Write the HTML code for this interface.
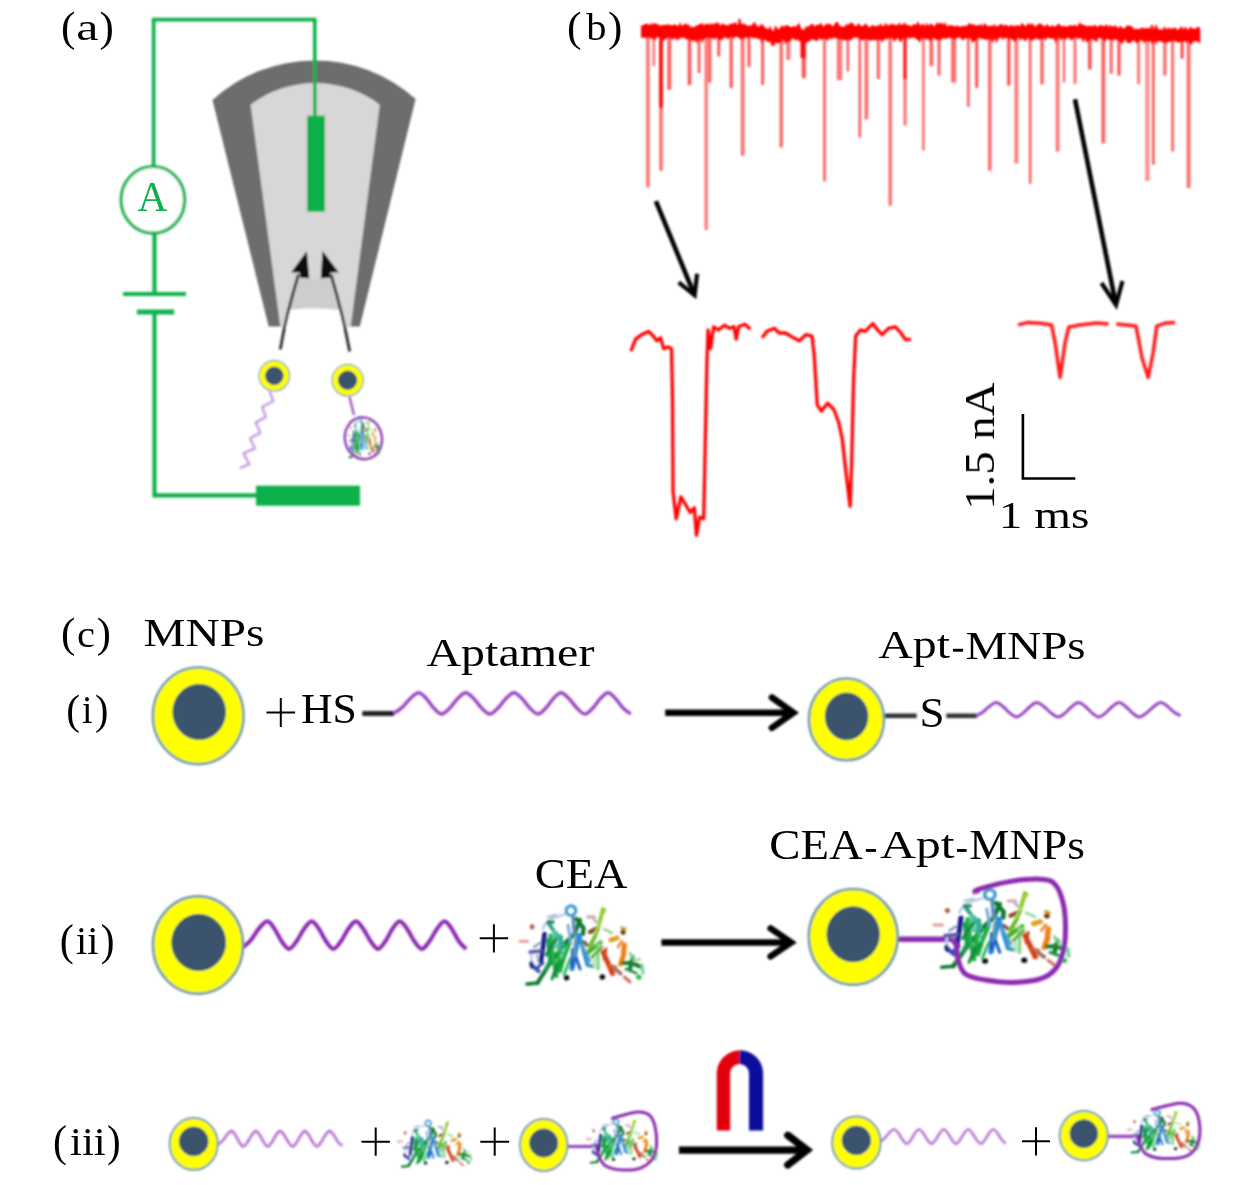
<!DOCTYPE html>
<html><head><meta charset="utf-8"><title>figure</title>
<style>html,body{margin:0;padding:0;background:#fff}svg{display:block}text{font-family:"Liberation Serif",serif}</style>
</head><body>
<svg width="1260" height="1185" viewBox="0 0 1260 1185">
<defs>
<filter id="soft" x="-5%" y="-5%" width="110%" height="110%"><feGaussianBlur stdDeviation="0.8"/></filter>
<filter id="soft2" x="-10%" y="-10%" width="120%" height="120%"><feGaussianBlur stdDeviation="0.9"/></filter>
</defs>
<rect width="1260" height="1185" fill="#fff"/>
<g filter="url(#soft)">
<path d="M212.5,100 A151.6,151.6 0 0 1 415.6,99 L359.8,326.5 L268.7,326.5 Z" fill="#6d6d6d"/>
<path d="M250.6,104.7 A107,107 0 0 1 379.8,104.7 L350.7,326.5 L280.3,326.5 Z" fill="#d7d7d7"/>
<path d="M299,279 L331,279 L339,310 L288.4,310 Z" fill="#cdcdcd"/>
<path d="M288.4,310 Q314,306.5 339,310 L344.9,328 L284.7,328 Z" fill="#fff"/>
<path d="M280.3,349.4 Q286,315 298.5,274.5" stroke="#333" stroke-width="2.9" fill="none"/>
<path d="M349.7,351.5 Q343,315 331,274.5" stroke="#333" stroke-width="2.9" fill="none"/>
<path d="M306.8,251 L291.3,272.2 L299.5,272.5 L300.5,278 L309.3,278.3 Z" fill="#0a0a0a"/>
<path d="M322.6,251 L338.7,272.2 L330.5,272.5 L329.5,278 L320.7,278.3 Z" fill="#0a0a0a"/>
<path d="M153.6,166 V19.6 H314.8 V116" stroke="#0db14b" stroke-width="3.6" fill="none"/>
<rect x="307" y="115.6" width="18" height="96.2" fill="#0db14b"/>
<ellipse cx="152.9" cy="199.8" rx="31.7" ry="33.3" fill="#fff" stroke="#0db14b" stroke-width="3.2"/>
<path d="M154.5,234 V294 M154.5,312 V495.3 H257" stroke="#0db14b" stroke-width="4.2" fill="none"/>
<path d="M123,294 H186" stroke="#0db14b" stroke-width="4" fill="none"/>
<path d="M137,312 H174" stroke="#0db14b" stroke-width="5" fill="none"/>
<rect x="256" y="485.7" width="104" height="20" fill="#0db14b"/>
<ellipse cx="274.3" cy="375.8" rx="15.2" ry="15.2" fill="#ffff00" stroke="#6f9aaa" stroke-width="1.2"/>
<ellipse cx="274.3" cy="375.8" rx="8.8" ry="8.8" fill="#3b536c" stroke="#2d5f86" stroke-width="1"/>
<ellipse cx="347.6" cy="380.2" rx="15.6" ry="15.6" fill="#ffff00" stroke="#6f9aaa" stroke-width="1.2"/>
<ellipse cx="347.6" cy="380.2" rx="9.2" ry="9.2" fill="#3b536c" stroke="#2d5f86" stroke-width="1"/>
<polyline points="269.6,391 273.3,401.2 262.2,406.8 265.9,417 255.7,422.5 260.3,432.8 250.1,438.3 254.8,448.5 243.6,453.2 249.2,464.3 240,468" stroke="#c9a2e2" stroke-width="2.6" fill="none" stroke-linejoin="round"/>
<path d="M349.5,397 L354,415" stroke="#a35cc6" stroke-width="2.4" fill="none"/>
<g transform="translate(344.5,411) scale(0.27,0.52)" fill="none" stroke-linecap="round">
<path d="M33,34 Q36,24 52,20" stroke="#b9cbe8" stroke-width="2.5"/>
<path d="M47,22 L58,18" stroke="#c5d3ea" stroke-width="2.5"/>
<path d="M22,58 Q20,66 24,70" stroke="#b9cbe8" stroke-width="2.5"/>
<path d="M27,60 L29,69" stroke="#aab7d8" stroke-width="2.5"/>
<path d="M34.5,39 L33,52 L31,66" stroke="#1a1a8c" stroke-width="4.6"/>
<path d="M20,57 L31,56" stroke="#5a5aa8" stroke-width="3.5"/>
<path d="M21.5,70 L28.5,76" stroke="#3a4fc0" stroke-width="4.2"/>
<path d="M21,68 L22,72" stroke="#1a2a70" stroke-width="3.4"/>
<path d="M27.5,88 L39.5,69 L56,47.5 L64.5,39 L70,25" stroke="#0b7a2c" stroke-width="4.2"/>
<path d="M17,89 L28,88" stroke="#0b7a2c" stroke-width="3.5"/>
<path d="M40.5,40.5 L43,62 L46.5,81" stroke="#21b045" stroke-width="4.2"/>
<path d="M38,45 L40,66 L36,74" stroke="#1c9a50" stroke-width="3.8"/>
<path d="M51,42 L49,60 L47.5,76" stroke="#21b045" stroke-width="4.2"/>
<path d="M59.5,48 L54,62 L50,76" stroke="#21b045" stroke-width="4.2"/>
<path d="M44,80 L52,66" stroke="#159a3a" stroke-width="3.8"/>
<path d="M38,27.5 L44,36" stroke="#2aa080" stroke-width="3.8"/>
<path d="M38,27 L43,27" stroke="#208868" stroke-width="3.4"/>
<path d="M44,36 L46,52" stroke="#46c7a0" stroke-width="3.4"/>
<path d="M50,41 L53,50" stroke="#30b090" stroke-width="3.8"/>
<path d="M63,20 A4.8,4.8 0 1 1 63.2,19.9" stroke="#3a9ad0" stroke-width="3"/>
<path d="M63,21 L64.3,39" stroke="#5a8fb8" stroke-width="3.5"/>
<path d="M69,40.5 L65,58 L62,73.5" stroke="#1d7fe0" stroke-width="5"/>
<path d="M63,55 L62,70" stroke="#2a4fd0" stroke-width="3.8"/>
<path d="M70,42 L74,58 L77.5,70" stroke="#2b8fd8" stroke-width="3.8"/>
<path d="M77.5,70 L83.5,71.5" stroke="#3a9ab0" stroke-width="3.8"/>
<path d="M66,44 L64,62" stroke="#5a98b0" stroke-width="3.4"/>
<path d="M66.5,24 L73.5,33 L73,39" stroke="#0b7a2c" stroke-width="4.2"/>
<path d="M93,14 L88,34 L82,48 L77.5,59.5" stroke="#8cc820" stroke-width="3.8"/>
<path d="M92,20 L95,15" stroke="#9ad040" stroke-width="2.9"/>
<path d="M78.5,57 L90.5,47.5" stroke="#42b030" stroke-width="4.2"/>
<path d="M80,50 L86,40" stroke="#6ab830" stroke-width="3.4"/>
<path d="M88,48 L88,74" stroke="#86d488" stroke-width="3.4"/>
<path d="M94,34 L102,38" stroke="#86d488" stroke-width="2.5"/>
<path d="M84,62 L84,72" stroke="#a8e0b0" stroke-width="2.5"/>
<path d="M80,37 L87,33.5" stroke="#8a4a20" stroke-width="4.2"/>
<path d="M74,47 L77,50" stroke="#7a5a30" stroke-width="3.4"/>
<path d="M93,57 L98,68 L102.5,78.5" stroke="#e03a12" stroke-width="5"/>
<path d="M114.3,50 L113.5,60 L110.7,69" stroke="#f07f12" stroke-width="5"/>
<path d="M101,45 L107,43" stroke="#e0a020" stroke-width="5"/>
<path d="M113,37 L113.2,37.2" stroke="#6a3010" stroke-width="5"/>
<path d="M112,33 L115,34" stroke="#c8a030" stroke-width="3.4"/>
<path d="M113,68 L122,68 L130,71.5" stroke="#128032" stroke-width="4.2"/>
<path d="M122.6,62 L120,74" stroke="#128032" stroke-width="4.2"/>
<path d="M128.6,82 L129,82.3" stroke="#20c040" stroke-width="5"/>
<path d="M132,70 L133,78" stroke="#7fd49a" stroke-width="3.4"/>
<path d="M120,58 L122,63" stroke="#7fd49a" stroke-width="2.9"/>
<path d="M22,31.5 L22.3,32" stroke="#b06050" stroke-width="4.6"/>
<path d="M10,46.4 L17.5,46.4" stroke="#e6a8a8" stroke-width="3.4"/>
<path d="M78,22 L84,22" stroke="#d8a8a8" stroke-width="3.4"/>
<path d="M84,24 L86,27" stroke="#b0b0c0" stroke-width="2.9"/>
<path d="M114.3,82 L120,87" stroke="#d07060" stroke-width="3"/>
<path d="M104.8,74 L110.7,78.6" stroke="#a07060" stroke-width="3.8"/>
<path d="M56.5,82.7 L56.6,82.7" stroke="#111111" stroke-width="5.5"/>
<path d="M92.3,82 L92.4,82" stroke="#111111" stroke-width="5.5"/>
<path d="M36,60 L46,44" stroke="#178a3c" stroke-width="2.9"/>
<path d="M42,84 L47,70" stroke="#178a3c" stroke-width="2.9"/>
<path d="M54,80 L60,64" stroke="#2ab860" stroke-width="2.7"/>
<path d="M47,38 L52,58" stroke="#3cb0a0" stroke-width="2.7"/>
<path d="M58,30 L61,48" stroke="#6fa8d8" stroke-width="2.7"/>
<path d="M66,62 L70,74" stroke="#1560c0" stroke-width="2.9"/>
<path d="M72,50 L80,66" stroke="#4aa0c8" stroke-width="2.7"/>
<path d="M82,62 L92,52" stroke="#5ab040" stroke-width="2.9"/>
<path d="M84,40 L90,28" stroke="#a0d860" stroke-width="2.5"/>
<path d="M96,54 L94,64" stroke="#c04a20" stroke-width="2.9"/>
<path d="M100,70 L106,72" stroke="#b07840" stroke-width="2.5"/>
<path d="M108,52 L112,46" stroke="#e89030" stroke-width="2.7"/>
<path d="M116,74 L126,78" stroke="#1a9040" stroke-width="2.9"/>
<path d="M124,66 L130,64" stroke="#9ad8a8" stroke-width="2.5"/>
<path d="M24,52 L30,48" stroke="#8898c8" stroke-width="2.5"/>
<path d="M28,72 L33,68" stroke="#2a3a90" stroke-width="2.7"/>
<path d="M38,22 L46,20" stroke="#a8c0e0" stroke-width="2.5"/>
</g>
<ellipse cx="363.4" cy="438.3" rx="18.5" ry="21" fill="none" stroke="#8d3eb4" stroke-width="2.4" transform="rotate(-12 363.4 438.3)"/>
<polygon points="641,25.6 642.7,25.6 644.4,24.1 646.1,23.8 647.8,23.9 649.5,25.3 651.2,22.6 652.9,25 654.6,22.5 656.3,24.2 658,25.5 659.7,25 661.4,25.5 663.1,24.7 664.8,24.9 666.5,24.8 668.2,25.4 669.9,24.8 671.6,25.2 673.3,25 675,24.4 676.7,25.2 678.4,26 680.1,21.9 681.8,25.9 683.5,25.1 685.2,23.1 686.9,25.1 688.6,23.9 690.3,27.1 692,26.4 693.7,27.2 695.4,26.3 697.1,25.2 698.8,24.5 700.5,24.1 702.2,22.8 703.9,25.6 705.6,23.7 707.3,23.8 709,25.5 710.7,22.7 712.4,24.9 714.1,22.7 715.8,23.9 717.5,21.8 719.2,24.1 720.9,25.5 722.6,23.1 724.3,24.6 726,25.1 727.7,25.5 729.4,24.3 731.1,23.5 732.8,23.8 734.5,22.6 736.2,22.7 737.9,25.3 739.6,22.8 741.3,23.1 743,24.2 744.7,23.6 746.4,25.3 748.1,25.8 749.8,25.8 751.5,25 753.2,24.7 754.9,22.2 756.6,25.6 758.3,26.5 760,25.9 761.7,23.4 763.4,25.5 765.1,27.7 766.8,28.3 768.5,29.3 770.2,25.4 771.9,30 773.6,30.9 775.3,25.1 777,28.1 778.7,29.6 780.4,27.3 782.1,25 783.8,27.3 785.5,25.3 787.2,25.2 788.9,26 790.6,27 792.3,27 794,25.6 795.7,27 797.4,25.1 799.1,22.6 800.8,27.4 802.5,30 804.2,29.6 805.9,26.1 807.6,27.3 809.3,25.6 811,24.4 812.7,23.5 814.4,26.6 816.1,25 817.8,24.7 819.5,24.5 821.2,22.5 822.9,26.4 824.6,25.8 826.3,23.5 828,24.2 829.7,23.6 831.4,25 833.1,26.4 834.8,23.6 836.5,21.8 838.2,22.7 839.9,25.9 841.6,26.6 843.3,26.4 845,26.5 846.7,23.5 848.4,25.2 850.1,22.7 851.8,22.5 853.5,24 855.2,26.2 856.9,25.4 858.6,22.8 860.3,25.5 862,26.2 863.7,25.4 865.4,23.2 867.1,24.8 868.8,27.2 870.5,27.1 872.2,24.4 873.9,26 875.6,26.3 877.3,25.3 879,25.9 880.7,23.1 882.4,26.3 884.1,25.8 885.8,22.3 887.5,26 889.2,24.6 890.9,24.7 892.6,23.3 894.3,25.2 896,24.3 897.7,25.6 899.4,22.1 901.1,25.3 902.8,24.3 904.5,22.3 906.2,25.1 907.9,24.4 909.6,25.7 911.3,26.3 913,24.3 914.7,24.5 916.4,24.6 918.1,20.9 919.8,25.1 921.5,25.2 923.2,23 924.9,26.4 926.6,22.5 928.3,25.9 930,23.8 931.7,23.7 933.4,26 935.1,25.8 936.8,22.1 938.5,24.1 940.2,23 941.9,22.8 943.6,24.8 945.3,22.1 947,26.5 948.7,25.1 950.4,25.6 952.1,25.3 953.8,25.9 955.5,26.5 957.2,25.3 958.9,26.4 960.6,26.6 962.3,26.3 964,25.7 965.7,25.7 967.4,25.7 969.1,22.6 970.8,24.6 972.5,24.3 974.2,24.4 975.9,25.8 977.6,25 979.3,25.6 981,23.5 982.7,26.6 984.4,23.1 986.1,24.5 987.8,26.3 989.5,26 991.2,25.3 992.9,26.2 994.6,24 996.3,26.4 998,25.9 999.7,24.5 1001.4,24.1 1003.1,25.8 1004.8,25 1006.5,24.8 1008.2,26.2 1009.9,26.1 1011.6,24.4 1013.3,26.6 1015,25.7 1016.7,25.2 1018.4,25.4 1020.1,26.1 1021.8,22.8 1023.5,24.3 1025.2,26.2 1026.9,25 1028.6,22.6 1030.3,25.3 1032,22.8 1033.7,25.3 1035.4,26.5 1037.1,25.3 1038.8,23.4 1040.5,23.8 1042.2,24.4 1043.9,26.4 1045.6,25.6 1047.3,24 1049,26.2 1050.7,26.5 1052.4,25.1 1054.1,26.4 1055.8,26.2 1057.5,24.5 1059.2,23.4 1060.9,26.3 1062.6,26.1 1064.3,25.7 1066,26.6 1067.7,26.4 1069.4,25.2 1071.1,25.2 1072.8,26 1074.5,24.4 1076.2,25.8 1077.9,25.7 1079.6,22 1081.3,24.6 1083,24.5 1084.7,25.3 1086.4,25.7 1088.1,26.3 1089.8,25.4 1091.5,25.9 1093.2,25.9 1094.9,24.6 1096.6,26.5 1098.3,26.6 1100,24.7 1101.7,25.5 1103.4,26.1 1105.1,25.8 1106.8,24 1108.5,27.1 1110.2,24.8 1111.9,26.4 1113.6,26.5 1115.3,25.3 1117,26.7 1118.7,28.2 1120.4,25.2 1122.1,27.4 1123.8,28.6 1125.5,27.3 1127.2,25 1128.9,25.9 1130.6,25.7 1132.3,26.5 1134,28.9 1135.7,28.8 1137.4,29.1 1139.1,29 1140.8,28.3 1142.5,27.4 1144.2,28.4 1145.9,27.8 1147.6,28.5 1149.3,27.6 1151,29 1152.7,28.4 1154.4,28.2 1156.1,23.8 1157.8,28.6 1159.5,29.4 1161.2,29.2 1162.9,29.6 1164.6,25.8 1166.3,29.8 1168,27.6 1169.7,28.4 1171.4,28.2 1173.1,28.8 1174.8,26.9 1176.5,28.9 1178.2,29.7 1179.9,28 1181.6,26 1183.3,29.6 1185,26.7 1186.7,28.1 1188.4,29.9 1190.1,26.3 1191.8,28.1 1193.5,28.5 1195.2,29.1 1196.9,26.9 1198.6,26.9 1200.3,27.9 1200.3,44 1198.6,42.2 1196.9,41.3 1195.2,41.7 1193.5,41.1 1191.8,44.8 1190.1,44.1 1188.4,40.8 1186.7,42.3 1185,41.5 1183.3,41.1 1181.6,42 1179.9,42.2 1178.2,42.4 1176.5,41.9 1174.8,40.7 1173.1,40.9 1171.4,41.3 1169.7,42.1 1168,42 1166.3,42.9 1164.6,42.6 1162.9,42.3 1161.2,41.4 1159.5,41.4 1157.8,40.9 1156.1,44.8 1154.4,40.5 1152.7,45.3 1151,41.6 1149.3,41.2 1147.6,41.9 1145.9,40.5 1144.2,43.8 1142.5,40.5 1140.8,40.6 1139.1,40.7 1137.4,43.2 1135.7,42.4 1134,40.5 1132.3,40.8 1130.6,43.4 1128.9,42.4 1127.2,43.6 1125.5,39.6 1123.8,41.2 1122.1,44.5 1120.4,41.8 1118.7,39.8 1117,40.8 1115.3,38.9 1113.6,40.4 1111.9,39.7 1110.2,40.2 1108.5,39.4 1106.8,38.4 1105.1,42.2 1103.4,39.7 1101.7,38.6 1100,38 1098.3,37.9 1096.6,42.7 1094.9,40.2 1093.2,40.3 1091.5,38.2 1089.8,40 1088.1,40.7 1086.4,43.1 1084.7,38.3 1083,43.2 1081.3,37.9 1079.6,38.4 1077.9,38.6 1076.2,37.8 1074.5,37.8 1072.8,39.3 1071.1,40.7 1069.4,38.2 1067.7,37.6 1066,39.4 1064.3,38.9 1062.6,38.2 1060.9,40.6 1059.2,37.9 1057.5,37.5 1055.8,43.7 1054.1,38.9 1052.4,38.2 1050.7,39.1 1049,38.1 1047.3,37.5 1045.6,41 1043.9,37.4 1042.2,39.9 1040.5,38.6 1038.8,40.1 1037.1,39 1035.4,38 1033.7,40.6 1032,39.8 1030.3,41.5 1028.6,37.5 1026.9,39.6 1025.2,41.6 1023.5,39.4 1021.8,38.6 1020.1,40.7 1018.4,37.5 1016.7,38.7 1015,42 1013.3,40.8 1011.6,38.8 1009.9,39 1008.2,37.5 1006.5,38.6 1004.8,37.5 1003.1,40 1001.4,37.8 999.7,37.4 998,39.4 996.3,43.4 994.6,37.9 992.9,43.3 991.2,39.5 989.5,39.9 987.8,39.1 986.1,39.9 984.4,39.6 982.7,38.8 981,39 979.3,37.8 977.6,38.6 975.9,40.5 974.2,41 972.5,43.4 970.8,39.1 969.1,37.5 967.4,39.6 965.7,37.8 964,39.8 962.3,40.3 960.6,37.8 958.9,37.8 957.2,37.4 955.5,39.3 953.8,39.2 952.1,37.9 950.4,38.3 948.7,37.7 947,38.6 945.3,39.1 943.6,38 941.9,39.3 940.2,39.7 938.5,40.5 936.8,39.8 935.1,39.6 933.4,37.8 931.7,38.9 930,41.6 928.3,39 926.6,39.7 924.9,38.5 923.2,38.3 921.5,38.4 919.8,43.2 918.1,39.9 916.4,39.2 914.7,37.4 913,38 911.3,37.6 909.6,39 907.9,37.3 906.2,39.2 904.5,37.4 902.8,38.6 901.1,42.6 899.4,41.1 897.7,38.1 896,40 894.3,41.7 892.6,38.5 890.9,37.7 889.2,38.8 887.5,38.5 885.8,39.8 884.1,38.8 882.4,43 880.7,39.6 879,40 877.3,39.6 875.6,40.8 873.9,40.1 872.2,40 870.5,41 868.8,39.8 867.1,39.5 865.4,38.8 863.7,39.9 862,40.3 860.3,39.7 858.6,37.5 856.9,37.9 855.2,37.5 853.5,37.4 851.8,39.9 850.1,39.9 848.4,39.4 846.7,41.1 845,39.8 843.3,40.5 841.6,39.3 839.9,38.8 838.2,39.3 836.5,38.3 834.8,38 833.1,37.7 831.4,39.7 829.7,37.8 828,40.8 826.3,39.7 824.6,38.3 822.9,38.8 821.2,40.6 819.5,37.8 817.8,41 816.1,41.1 814.4,40 812.7,39.6 811,39.6 809.3,42 807.6,41.6 805.9,43.6 804.2,42.3 802.5,42.7 800.8,40.7 799.1,41.8 797.4,38.8 795.7,41.5 794,38.4 792.3,38.5 790.6,40.9 788.9,41.7 787.2,41.6 785.5,44.5 783.8,40.2 782.1,40.2 780.4,43.4 778.7,42.7 777,43.8 775.3,42.8 773.6,42.3 771.9,42.2 770.2,42.1 768.5,41.9 766.8,41.5 765.1,39.9 763.4,39.3 761.7,44 760,38.3 758.3,39.5 756.6,38.1 754.9,37.9 753.2,38.4 751.5,37 749.8,37.6 748.1,38.2 746.4,37.1 744.7,38.7 743,38.1 741.3,39.5 739.6,38.9 737.9,37.1 736.2,36.7 734.5,37.5 732.8,38.6 731.1,36.6 729.4,37.5 727.7,39.2 726,38.1 724.3,36.9 722.6,40.3 720.9,39 719.2,40.8 717.5,38.2 715.8,37.9 714.1,39.7 712.4,38 710.7,38.2 709,37.8 707.3,37.2 705.6,39.1 703.9,38.8 702.2,43.3 700.5,39.3 698.8,38.9 697.1,43.4 695.4,40.3 693.7,41.8 692,39.9 690.3,41.1 688.6,38.6 686.9,39.5 685.2,38.9 683.5,37 681.8,38.8 680.1,37.6 678.4,39.9 676.7,40.3 675,37.5 673.3,39.7 671.6,39.1 669.9,37.5 668.2,37.1 666.5,38.6 664.8,39.7 663.1,40.9 661.4,37.8 659.7,38.4 658,37 656.3,38 654.6,40.9 652.9,38 651.2,38.9 649.5,37.3 647.8,37.5 646.1,37.9 644.4,37.4 642.7,37.6 641,38.1" fill="#ff0000"/>
<path d="M739.5,19 V31.1" stroke="#ff0000" stroke-width="2.4" fill="none"/>
<path d="M754,22.5 V31.7" stroke="#ff0000" stroke-width="2.4" fill="none"/>
<path d="M657,24 V31.5" stroke="#ff0000" stroke-width="2.4" fill="none"/>
<path d="M668,24.5 V31.5" stroke="#ff0000" stroke-width="2.4" fill="none"/>
<path d="M708,24 V31.5" stroke="#ff0000" stroke-width="2.4" fill="none"/>
<path d="M1152,25 V35" stroke="#ff0000" stroke-width="2.4" fill="none"/>
<path d="M647.9,31.5 V187.4" stroke="#ff0000" stroke-width="3.4" stroke-opacity="0.58" fill="none"/>
<path d="M653.8,31.5 V66" stroke="#ff0000" stroke-width="2" stroke-opacity="0.6799999999999999" fill="none"/>
<path d="M661,31.5 V170.7" stroke="#ff0000" stroke-width="3.6" stroke-opacity="0.58" fill="none"/>
<path d="M661,31.5 V107.6" stroke="#ff0000" stroke-width="3.6" stroke-opacity="0.9299999999999999" fill="none"/>
<path d="M669.3,31.5 V89.8" stroke="#ff0000" stroke-width="4" stroke-opacity="0.63" fill="none"/>
<path d="M689.5,32.5 V85" stroke="#ff0000" stroke-width="3.6" stroke-opacity="0.6799999999999999" fill="none"/>
<path d="M699,32.9 V73" stroke="#ff0000" stroke-width="2.6" stroke-opacity="0.6799999999999999" fill="none"/>
<path d="M706.2,31.5 V230" stroke="#ff0000" stroke-width="3.4" stroke-opacity="0.53" fill="none"/>
<path d="M709.8,31.4 V82.6" stroke="#ff0000" stroke-width="3" stroke-opacity="0.6799999999999999" fill="none"/>
<path d="M718.8,31.3 V56.4" stroke="#ff0000" stroke-width="3" stroke-opacity="0.6799999999999999" fill="none"/>
<path d="M731.2,31.1 V88" stroke="#ff0000" stroke-width="3.2" stroke-opacity="0.6799999999999999" fill="none"/>
<path d="M742.6,31.2 V155.7" stroke="#ff0000" stroke-width="3.6" stroke-opacity="0.58" fill="none"/>
<path d="M749,31.5 V67" stroke="#ff0000" stroke-width="3" stroke-opacity="0.6799999999999999" fill="none"/>
<path d="M762.6,33 V85" stroke="#ff0000" stroke-width="2.6" stroke-opacity="0.73" fill="none"/>
<path d="M772.9,37 V45.7" stroke="#ff0000" stroke-width="4" stroke-opacity="0.98" fill="none"/>
<path d="M781.2,34.3 V147.4" stroke="#ff0000" stroke-width="3.6" stroke-opacity="0.58" fill="none"/>
<path d="M788.3,32.9 V60" stroke="#ff0000" stroke-width="4.2" stroke-opacity="0.53" fill="none"/>
<path d="M803.8,35.6 V77.9" stroke="#ff0000" stroke-width="4" stroke-opacity="0.6799999999999999" fill="none"/>
<path d="M803,36 V58" stroke="#ff0000" stroke-width="5" stroke-opacity="0.9299999999999999" fill="none"/>
<path d="M824.5,32 V181.4" stroke="#ff0000" stroke-width="2.6" stroke-opacity="0.6799999999999999" fill="none"/>
<path d="M839.5,32 V80.2" stroke="#ff0000" stroke-width="5.5" stroke-opacity="0.53" fill="none"/>
<path d="M847.9,32 V71.4" stroke="#ff0000" stroke-width="2.4" stroke-opacity="0.6799999999999999" fill="none"/>
<path d="M859.8,32 V137.4" stroke="#ff0000" stroke-width="2.4" stroke-opacity="0.6799999999999999" fill="none"/>
<path d="M866.4,32.2 V119.5" stroke="#ff0000" stroke-width="3.8" stroke-opacity="0.58" fill="none"/>
<path d="M878.3,33.9 V79" stroke="#ff0000" stroke-width="3" stroke-opacity="0.63" fill="none"/>
<path d="M890.2,31.5 V205.7" stroke="#ff0000" stroke-width="3.4" stroke-opacity="0.58" fill="none"/>
<path d="M905,31.7 V125.5" stroke="#ff0000" stroke-width="3" stroke-opacity="0.58" fill="none"/>
<path d="M905,31.7 V79" stroke="#ff0000" stroke-width="3" stroke-opacity="0.88" fill="none"/>
<path d="M923.4,31.9 V150.5" stroke="#ff0000" stroke-width="2.4" stroke-opacity="0.63" fill="none"/>
<path d="M931.4,32 V66" stroke="#ff0000" stroke-width="3.6" stroke-opacity="0.63" fill="none"/>
<path d="M939,32 V75.5" stroke="#ff0000" stroke-width="2.8" stroke-opacity="0.6799999999999999" fill="none"/>
<path d="M953.6,32 V82.6" stroke="#ff0000" stroke-width="5" stroke-opacity="0.58" fill="none"/>
<path d="M968.3,32 V107" stroke="#ff0000" stroke-width="2.6" stroke-opacity="0.63" fill="none"/>
<path d="M976.7,32 V88" stroke="#ff0000" stroke-width="2.8" stroke-opacity="0.73" fill="none"/>
<path d="M989.8,32 V170.7" stroke="#ff0000" stroke-width="3.6" stroke-opacity="0.58" fill="none"/>
<path d="M1008.8,32 V85.7" stroke="#ff0000" stroke-width="3.4" stroke-opacity="0.6799999999999999" fill="none"/>
<path d="M1016.4,32 V163.6" stroke="#ff0000" stroke-width="3.8" stroke-opacity="0.53" fill="none"/>
<path d="M1030.2,32 V183.8" stroke="#ff0000" stroke-width="2.6" stroke-opacity="0.63" fill="none"/>
<path d="M1042,32 V84.3" stroke="#ff0000" stroke-width="3.4" stroke-opacity="0.63" fill="none"/>
<path d="M1057.6,32 V151.7" stroke="#ff0000" stroke-width="3.8" stroke-opacity="0.53" fill="none"/>
<path d="M1064,32 V82.6" stroke="#ff0000" stroke-width="2" stroke-opacity="0.6799999999999999" fill="none"/>
<path d="M1075,32.2 V83.8" stroke="#ff0000" stroke-width="2.6" stroke-opacity="0.63" fill="none"/>
<path d="M1089.8,32.4 V69.5" stroke="#ff0000" stroke-width="3.6" stroke-opacity="0.6799999999999999" fill="none"/>
<path d="M1103.3,32.7 V143.3" stroke="#ff0000" stroke-width="3.8" stroke-opacity="0.63" fill="none"/>
<path d="M1111.2,33.2 V73.8" stroke="#ff0000" stroke-width="3" stroke-opacity="0.63" fill="none"/>
<path d="M1119,33.7 V75.5" stroke="#ff0000" stroke-width="3" stroke-opacity="0.73" fill="none"/>
<path d="M1138.6,34.6 V84.3" stroke="#ff0000" stroke-width="2.8" stroke-opacity="0.58" fill="none"/>
<path d="M1147.4,34.9 V181" stroke="#ff0000" stroke-width="4.4" stroke-opacity="0.43" fill="none"/>
<path d="M1153.3,35 V164.8" stroke="#ff0000" stroke-width="2.6" stroke-opacity="0.6799999999999999" fill="none"/>
<path d="M1164.8,35.1 V75.5" stroke="#ff0000" stroke-width="3.4" stroke-opacity="0.58" fill="none"/>
<path d="M1172.6,35.2 V151.7" stroke="#ff0000" stroke-width="3" stroke-opacity="0.58" fill="none"/>
<path d="M1182.1,35.3 V58.8" stroke="#ff0000" stroke-width="3" stroke-opacity="0.73" fill="none"/>
<path d="M1188.6,35.4 V188" stroke="#ff0000" stroke-width="3.8" stroke-opacity="0.58" fill="none"/>
<path d="M655.9,201.2 L693.4,292.4" stroke="#000" stroke-width="4.6" fill="none"/>
<path d="M678.7,282.4 L694.6,295.3 L697.1,273.7" stroke="#000" stroke-width="4.2" fill="none" stroke-linejoin="miter"/>
<path d="M1075,99.3 L1115.6,303" stroke="#000" stroke-width="4.6" fill="none"/>
<polyline points="630.9,351.1 635.6,339.2 641.9,334.6 648.7,331.4 652.8,335.5 656.8,340.8 660.6,337.7 663.7,348.6 668.4,347 671.5,348.6 672.5,398.6 673.1,492.2 676.2,518.8 680.9,496.9 685.6,504.7 690.3,512.5 694.3,507.8 696.5,535.3 699.6,517.2 703.7,518.8 704.9,461 706.8,367.3 708.1,329.9 710.5,348.6 713.7,326.8 718.4,329.9 724.6,325.2 729.3,328.3 734,326.8 736.2,339.2 738.6,326.8 744.9,324.3 750.5,329.2" stroke="#ff0000" stroke-width="3.3" fill="none" stroke-linejoin="round"/>
<polyline points="762.1,337.7 766.8,331.4 774.6,328.3 779.2,333 785.5,333 793.3,337.7 799.5,340.8 805.8,334.6 812,336.1 814.2,354.9 817.3,404.8 821.4,411.1 827.6,403.2 833.9,409.5 838.6,422 842.3,439.2 845.4,467.3 850.1,506.3 851.7,461 853.6,379.8 855.7,336.1 860.4,329.9 865.1,331.4 872.9,323.6 877.6,329.9 882.3,334.6 888.5,328.3 895.4,326.8 901,333 905.7,339.9 911,339.2" stroke="#ff0000" stroke-width="3.3" fill="none" stroke-linejoin="round"/>
<polyline points="1018,324.9 1028.3,322.4 1043,323.6 1051.6,324.9 1055.2,343.2 1060.1,377.5 1065,343.2 1068.7,327.3 1079.7,324.9 1096.8,323.1 1108.6,324.1" stroke="#ff1a1a" stroke-width="3.5" fill="none" stroke-linejoin="round"/>
<polyline points="1116.4,324.1 1126.2,324.9 1136,326.1 1142.1,357.9 1148.2,377.5 1153.1,353 1156.8,326.1 1165.4,323.1 1175.1,322.4" stroke="#ff1a1a" stroke-width="3.5" fill="none" stroke-linejoin="round"/>
<path d="M1101.5,283 L1116,305 L1122.5,281" stroke="#000" stroke-width="4.2" fill="none" stroke-linejoin="miter"/>
<ellipse cx="198.2" cy="715.8" rx="45.3" ry="48.3" fill="#ffff00" stroke="#6f9aaa" stroke-width="2.6"/>
<ellipse cx="199.2" cy="712" rx="26.3" ry="27.6" fill="#3b536c" stroke="#2d5f86" stroke-width="1"/>
<path d="M362.3,713.5 H394" stroke="#222" stroke-width="5" fill="none"/>
<path d="M393.3,713.5C394.7,712.6 398.8,710.4 401.7,707.9C404.5,705.4 407.5,700.9 410.3,698.4C413.2,695.9 416,692.8 418.7,692.8C421.4,692.8 423.7,695.9 426.3,698.5C428.8,701.1 431.5,705.7 434,708.3C436.6,710.9 439,714 441.6,714C444.2,714 446.9,710.9 449.6,708.3C452.2,705.7 455.1,701.1 457.7,698.5C460.4,695.9 463,692.8 465.7,692.8C468.4,692.8 471,695.9 473.7,698.5C476.3,701.1 479.2,705.7 481.8,708.3C484.5,710.9 487.1,714 489.8,714C492.5,714 495.1,710.9 497.8,708.3C500.5,705.7 503.3,701.1 506,698.5C508.7,695.9 511.3,692.8 514,692.8C516.7,692.8 519.2,695.9 521.9,698.5C524.6,701.1 527.4,705.7 530.1,708.3C532.8,710.9 535.4,714 538,714C540.6,714 543,710.9 545.6,708.3C548.2,705.7 550.8,701.1 553.4,698.5C556,695.9 558.4,692.8 561,692.8C563.6,692.8 566.2,695.9 568.9,698.5C571.6,701.1 574.4,705.7 577.1,708.3C579.8,710.9 582.4,714 585,714C587.6,714 590,710.9 592.6,708.3C595.2,705.7 597.8,701.1 600.4,698.5C603,695.9 605.5,692.8 608,692.8C610.5,692.8 613,695.9 615.5,698.5C618.1,701.1 620.7,705.7 623.3,708.3C625.8,710.9 629.5,713 630.8,714" stroke="#9a46c2" stroke-width="3.4" fill="none" stroke-linejoin="round"/>
<path d="M665.2,712.7 H791.4" stroke="#000" stroke-width="6.5" fill="none"/>
<path d="M771.9,697.5 L793.4,712.7 L771.9,727.9" stroke="#000" stroke-width="6.5" fill="none" stroke-linejoin="miter" stroke-miterlimit="10" stroke-linecap="round"/>
<ellipse cx="846.4" cy="719.4" rx="37.5" ry="40.9" fill="#ffff00" stroke="#6f9aaa" stroke-width="2.6"/>
<ellipse cx="846.6" cy="716.4" rx="21.3" ry="23.4" fill="#3b536c" stroke="#2d5f86" stroke-width="1"/>
<path d="M885,715.8 H916.7" stroke="#333" stroke-width="4.6" fill="none"/>
<path d="M946.3,715.8 H977" stroke="#333" stroke-width="4.6" fill="none"/>
<path d="M976,715.8C977.1,715.2 980.4,713.8 982.7,712.2C985,710.6 987.3,707.8 989.6,706.2C991.9,704.6 994.1,702.5 996.3,702.6C998.5,702.7 1000.7,704.7 1003,706.5C1005.2,708.2 1007.6,711.4 1009.8,713.1C1012.1,714.9 1014.3,717 1016.5,717C1018.7,717 1020.9,714.9 1023.2,713.1C1025.4,711.4 1027.8,708.2 1030,706.5C1032.3,704.7 1034.4,702.6 1036.7,702.6C1039,702.6 1041.4,704.7 1043.8,706.5C1046.2,708.2 1048.8,711.4 1051.2,713.1C1053.6,714.9 1056,717 1058.3,717C1060.6,717 1062.7,714.9 1065,713.1C1067.3,711.4 1069.6,708.2 1071.9,706.5C1074.2,704.7 1076.4,702.6 1078.6,702.6C1080.8,702.6 1083,704.7 1085.3,706.5C1087.5,708.2 1089.9,711.4 1092.1,713.1C1094.4,714.9 1096.6,717 1098.8,717C1101,717 1103.2,714.9 1105.5,713.1C1107.7,711.4 1110.1,708.2 1112.3,706.5C1114.6,704.7 1116.8,702.6 1119,702.6C1121.2,702.6 1123.4,704.7 1125.7,706.5C1128,708.2 1130.3,711.4 1132.6,713.1C1134.9,714.9 1137,717 1139.3,717C1141.6,717 1144,714.9 1146.4,713.1C1148.8,711.4 1151.4,708.2 1153.8,706.5C1156.2,704.7 1158.6,702.7 1160.9,702.6C1163.2,702.5 1165.2,704.6 1167.4,706.2C1169.6,707.8 1171.9,710.6 1174.1,712.2C1176.3,713.8 1179.5,715.2 1180.6,715.8" stroke="#9a46c2" stroke-width="3" fill="none" stroke-linejoin="round"/>
<path d="M242,948C243.4,946.8 247.5,944 250.3,940.8C253.2,937.5 256.1,931.7 259,928.4C261.8,925.2 264.7,921.2 267.3,921.2C269.9,921.2 272,925.3 274.4,928.7C276.8,932.1 279.4,938.1 281.8,941.5C284.2,944.9 286.5,949 288.9,949C291.3,949 293.9,944.9 296.4,941.5C299,938.1 301.6,932.1 304.2,928.7C306.7,925.3 309.3,921.2 311.7,921.2C314.1,921.2 316.4,925.3 318.8,928.7C321.2,932.1 323.8,938.1 326.2,941.5C328.6,944.9 330.9,949 333.3,949C335.7,949 338.2,944.9 340.8,941.5C343.3,938.1 345.9,932.1 348.4,928.7C351,925.3 353.4,921.2 355.9,921.2C358.4,921.2 360.7,925.3 363.2,928.7C365.7,932.1 368.3,938.1 370.8,941.5C373.3,944.9 375.7,949 378.1,949C380.5,949 382.8,944.9 385.2,941.5C387.6,938.1 390.2,932.1 392.6,928.7C395,925.3 397.3,921.2 399.7,921.2C402.1,921.2 404.5,925.3 407,928.7C409.5,932.1 412,938.1 414.5,941.5C417,944.9 419.3,949 421.8,949C424.3,949 426.8,944.9 429.3,941.5C431.9,938.1 434.5,932.1 437.1,928.7C439.6,925.3 442.2,921.2 444.6,921.2C447,921.2 449.3,925.4 451.7,928.8C454.1,932.2 456.7,938.2 459.1,941.6C461.5,945 465,947.9 466.2,949.2" stroke="#8a2bb0" stroke-width="4" fill="none" stroke-linejoin="round"/>
<ellipse cx="198" cy="945" rx="45" ry="48.6" fill="#ffff00" stroke="#6f9aaa" stroke-width="2.6"/>
<ellipse cx="198.7" cy="942.5" rx="26.9" ry="28.1" fill="#3b536c" stroke="#2d5f86" stroke-width="1"/>
<g transform="translate(510,895)" fill="none" stroke-linecap="round">
<path d="M33,34 Q36,24 52,20" stroke="#b9cbe8" stroke-width="2.5"/>
<path d="M47,22 L58,18" stroke="#c5d3ea" stroke-width="2.5"/>
<path d="M22,58 Q20,66 24,70" stroke="#b9cbe8" stroke-width="2.5"/>
<path d="M27,60 L29,69" stroke="#aab7d8" stroke-width="2.5"/>
<path d="M34.5,39 L33,52 L31,66" stroke="#1a1a8c" stroke-width="4.6"/>
<path d="M20,57 L31,56" stroke="#5a5aa8" stroke-width="3.5"/>
<path d="M21.5,70 L28.5,76" stroke="#3a4fc0" stroke-width="4.2"/>
<path d="M21,68 L22,72" stroke="#1a2a70" stroke-width="3.4"/>
<path d="M27.5,88 L39.5,69 L56,47.5 L64.5,39 L70,25" stroke="#0b7a2c" stroke-width="4.2"/>
<path d="M17,89 L28,88" stroke="#0b7a2c" stroke-width="3.5"/>
<path d="M40.5,40.5 L43,62 L46.5,81" stroke="#21b045" stroke-width="4.2"/>
<path d="M38,45 L40,66 L36,74" stroke="#1c9a50" stroke-width="3.8"/>
<path d="M51,42 L49,60 L47.5,76" stroke="#21b045" stroke-width="4.2"/>
<path d="M59.5,48 L54,62 L50,76" stroke="#21b045" stroke-width="4.2"/>
<path d="M44,80 L52,66" stroke="#159a3a" stroke-width="3.8"/>
<path d="M38,27.5 L44,36" stroke="#2aa080" stroke-width="3.8"/>
<path d="M38,27 L43,27" stroke="#208868" stroke-width="3.4"/>
<path d="M44,36 L46,52" stroke="#46c7a0" stroke-width="3.4"/>
<path d="M50,41 L53,50" stroke="#30b090" stroke-width="3.8"/>
<path d="M63,20 A4.8,4.8 0 1 1 63.2,19.9" stroke="#3a9ad0" stroke-width="3"/>
<path d="M63,21 L64.3,39" stroke="#5a8fb8" stroke-width="3.5"/>
<path d="M69,40.5 L65,58 L62,73.5" stroke="#1d7fe0" stroke-width="5"/>
<path d="M63,55 L62,70" stroke="#2a4fd0" stroke-width="3.8"/>
<path d="M70,42 L74,58 L77.5,70" stroke="#2b8fd8" stroke-width="3.8"/>
<path d="M77.5,70 L83.5,71.5" stroke="#3a9ab0" stroke-width="3.8"/>
<path d="M66,44 L64,62" stroke="#5a98b0" stroke-width="3.4"/>
<path d="M66.5,24 L73.5,33 L73,39" stroke="#0b7a2c" stroke-width="4.2"/>
<path d="M93,14 L88,34 L82,48 L77.5,59.5" stroke="#8cc820" stroke-width="3.8"/>
<path d="M92,20 L95,15" stroke="#9ad040" stroke-width="2.9"/>
<path d="M78.5,57 L90.5,47.5" stroke="#42b030" stroke-width="4.2"/>
<path d="M80,50 L86,40" stroke="#6ab830" stroke-width="3.4"/>
<path d="M88,48 L88,74" stroke="#86d488" stroke-width="3.4"/>
<path d="M94,34 L102,38" stroke="#86d488" stroke-width="2.5"/>
<path d="M84,62 L84,72" stroke="#a8e0b0" stroke-width="2.5"/>
<path d="M80,37 L87,33.5" stroke="#8a4a20" stroke-width="4.2"/>
<path d="M74,47 L77,50" stroke="#7a5a30" stroke-width="3.4"/>
<path d="M93,57 L98,68 L102.5,78.5" stroke="#e03a12" stroke-width="5"/>
<path d="M114.3,50 L113.5,60 L110.7,69" stroke="#f07f12" stroke-width="5"/>
<path d="M101,45 L107,43" stroke="#e0a020" stroke-width="5"/>
<path d="M113,37 L113.2,37.2" stroke="#6a3010" stroke-width="5"/>
<path d="M112,33 L115,34" stroke="#c8a030" stroke-width="3.4"/>
<path d="M113,68 L122,68 L130,71.5" stroke="#128032" stroke-width="4.2"/>
<path d="M122.6,62 L120,74" stroke="#128032" stroke-width="4.2"/>
<path d="M128.6,82 L129,82.3" stroke="#20c040" stroke-width="5"/>
<path d="M132,70 L133,78" stroke="#7fd49a" stroke-width="3.4"/>
<path d="M120,58 L122,63" stroke="#7fd49a" stroke-width="2.9"/>
<path d="M22,31.5 L22.3,32" stroke="#b06050" stroke-width="4.6"/>
<path d="M10,46.4 L17.5,46.4" stroke="#e6a8a8" stroke-width="3.4"/>
<path d="M78,22 L84,22" stroke="#d8a8a8" stroke-width="3.4"/>
<path d="M84,24 L86,27" stroke="#b0b0c0" stroke-width="2.9"/>
<path d="M114.3,82 L120,87" stroke="#d07060" stroke-width="3"/>
<path d="M104.8,74 L110.7,78.6" stroke="#a07060" stroke-width="3.8"/>
<path d="M56.5,82.7 L56.6,82.7" stroke="#111111" stroke-width="5.5"/>
<path d="M92.3,82 L92.4,82" stroke="#111111" stroke-width="5.5"/>
<path d="M36,60 L46,44" stroke="#178a3c" stroke-width="2.9"/>
<path d="M42,84 L47,70" stroke="#178a3c" stroke-width="2.9"/>
<path d="M54,80 L60,64" stroke="#2ab860" stroke-width="2.7"/>
<path d="M47,38 L52,58" stroke="#3cb0a0" stroke-width="2.7"/>
<path d="M58,30 L61,48" stroke="#6fa8d8" stroke-width="2.7"/>
<path d="M66,62 L70,74" stroke="#1560c0" stroke-width="2.9"/>
<path d="M72,50 L80,66" stroke="#4aa0c8" stroke-width="2.7"/>
<path d="M82,62 L92,52" stroke="#5ab040" stroke-width="2.9"/>
<path d="M84,40 L90,28" stroke="#a0d860" stroke-width="2.5"/>
<path d="M96,54 L94,64" stroke="#c04a20" stroke-width="2.9"/>
<path d="M100,70 L106,72" stroke="#b07840" stroke-width="2.5"/>
<path d="M108,52 L112,46" stroke="#e89030" stroke-width="2.7"/>
<path d="M116,74 L126,78" stroke="#1a9040" stroke-width="2.9"/>
<path d="M124,66 L130,64" stroke="#9ad8a8" stroke-width="2.5"/>
<path d="M24,52 L30,48" stroke="#8898c8" stroke-width="2.5"/>
<path d="M28,72 L33,68" stroke="#2a3a90" stroke-width="2.7"/>
<path d="M38,22 L46,20" stroke="#a8c0e0" stroke-width="2.5"/>
</g>
<path d="M661.4,942.4 H789.1" stroke="#000" stroke-width="6.5" fill="none"/>
<path d="M770.6,928.4 L791.1,942.4 L770.6,956.4" stroke="#000" stroke-width="6.5" fill="none" stroke-linejoin="miter" stroke-miterlimit="10" stroke-linecap="round"/>
<path d="M897,939.2 H955" stroke="#8a2bb0" stroke-width="5.4" fill="none"/>
<ellipse cx="853.2" cy="936.8" rx="44.4" ry="47.8" fill="#ffff00" stroke="#6f9aaa" stroke-width="2.6"/>
<ellipse cx="853.2" cy="934.3" rx="26.2" ry="27.5" fill="#3b536c" stroke="#2d5f86" stroke-width="1"/>
<g transform="translate(923.2,879.1) scale(1.094,0.99)" fill="none" stroke-linecap="round">
<path d="M33,34 Q36,24 52,20" stroke="#b9cbe8" stroke-width="2.5"/>
<path d="M47,22 L58,18" stroke="#c5d3ea" stroke-width="2.5"/>
<path d="M22,58 Q20,66 24,70" stroke="#b9cbe8" stroke-width="2.5"/>
<path d="M27,60 L29,69" stroke="#aab7d8" stroke-width="2.5"/>
<path d="M34.5,39 L33,52 L31,66" stroke="#1a1a8c" stroke-width="4.6"/>
<path d="M20,57 L31,56" stroke="#5a5aa8" stroke-width="3.5"/>
<path d="M21.5,70 L28.5,76" stroke="#3a4fc0" stroke-width="4.2"/>
<path d="M21,68 L22,72" stroke="#1a2a70" stroke-width="3.4"/>
<path d="M27.5,88 L39.5,69 L56,47.5 L64.5,39 L70,25" stroke="#0b7a2c" stroke-width="4.2"/>
<path d="M17,89 L28,88" stroke="#0b7a2c" stroke-width="3.5"/>
<path d="M40.5,40.5 L43,62 L46.5,81" stroke="#21b045" stroke-width="4.2"/>
<path d="M38,45 L40,66 L36,74" stroke="#1c9a50" stroke-width="3.8"/>
<path d="M51,42 L49,60 L47.5,76" stroke="#21b045" stroke-width="4.2"/>
<path d="M59.5,48 L54,62 L50,76" stroke="#21b045" stroke-width="4.2"/>
<path d="M44,80 L52,66" stroke="#159a3a" stroke-width="3.8"/>
<path d="M38,27.5 L44,36" stroke="#2aa080" stroke-width="3.8"/>
<path d="M38,27 L43,27" stroke="#208868" stroke-width="3.4"/>
<path d="M44,36 L46,52" stroke="#46c7a0" stroke-width="3.4"/>
<path d="M50,41 L53,50" stroke="#30b090" stroke-width="3.8"/>
<path d="M63,20 A4.8,4.8 0 1 1 63.2,19.9" stroke="#3a9ad0" stroke-width="3"/>
<path d="M63,21 L64.3,39" stroke="#5a8fb8" stroke-width="3.5"/>
<path d="M69,40.5 L65,58 L62,73.5" stroke="#1d7fe0" stroke-width="5"/>
<path d="M63,55 L62,70" stroke="#2a4fd0" stroke-width="3.8"/>
<path d="M70,42 L74,58 L77.5,70" stroke="#2b8fd8" stroke-width="3.8"/>
<path d="M77.5,70 L83.5,71.5" stroke="#3a9ab0" stroke-width="3.8"/>
<path d="M66,44 L64,62" stroke="#5a98b0" stroke-width="3.4"/>
<path d="M66.5,24 L73.5,33 L73,39" stroke="#0b7a2c" stroke-width="4.2"/>
<path d="M93,14 L88,34 L82,48 L77.5,59.5" stroke="#8cc820" stroke-width="3.8"/>
<path d="M92,20 L95,15" stroke="#9ad040" stroke-width="2.9"/>
<path d="M78.5,57 L90.5,47.5" stroke="#42b030" stroke-width="4.2"/>
<path d="M80,50 L86,40" stroke="#6ab830" stroke-width="3.4"/>
<path d="M88,48 L88,74" stroke="#86d488" stroke-width="3.4"/>
<path d="M94,34 L102,38" stroke="#86d488" stroke-width="2.5"/>
<path d="M84,62 L84,72" stroke="#a8e0b0" stroke-width="2.5"/>
<path d="M80,37 L87,33.5" stroke="#8a4a20" stroke-width="4.2"/>
<path d="M74,47 L77,50" stroke="#7a5a30" stroke-width="3.4"/>
<path d="M93,57 L98,68 L102.5,78.5" stroke="#e03a12" stroke-width="5"/>
<path d="M114.3,50 L113.5,60 L110.7,69" stroke="#f07f12" stroke-width="5"/>
<path d="M101,45 L107,43" stroke="#e0a020" stroke-width="5"/>
<path d="M113,37 L113.2,37.2" stroke="#6a3010" stroke-width="5"/>
<path d="M112,33 L115,34" stroke="#c8a030" stroke-width="3.4"/>
<path d="M113,68 L122,68 L130,71.5" stroke="#128032" stroke-width="4.2"/>
<path d="M122.6,62 L120,74" stroke="#128032" stroke-width="4.2"/>
<path d="M128.6,82 L129,82.3" stroke="#20c040" stroke-width="5"/>
<path d="M132,70 L133,78" stroke="#7fd49a" stroke-width="3.4"/>
<path d="M120,58 L122,63" stroke="#7fd49a" stroke-width="2.9"/>
<path d="M22,31.5 L22.3,32" stroke="#b06050" stroke-width="4.6"/>
<path d="M10,46.4 L17.5,46.4" stroke="#e6a8a8" stroke-width="3.4"/>
<path d="M78,22 L84,22" stroke="#d8a8a8" stroke-width="3.4"/>
<path d="M84,24 L86,27" stroke="#b0b0c0" stroke-width="2.9"/>
<path d="M114.3,82 L120,87" stroke="#d07060" stroke-width="3"/>
<path d="M104.8,74 L110.7,78.6" stroke="#a07060" stroke-width="3.8"/>
<path d="M56.5,82.7 L56.6,82.7" stroke="#111111" stroke-width="5.5"/>
<path d="M92.3,82 L92.4,82" stroke="#111111" stroke-width="5.5"/>
<path d="M36,60 L46,44" stroke="#178a3c" stroke-width="2.9"/>
<path d="M42,84 L47,70" stroke="#178a3c" stroke-width="2.9"/>
<path d="M54,80 L60,64" stroke="#2ab860" stroke-width="2.7"/>
<path d="M47,38 L52,58" stroke="#3cb0a0" stroke-width="2.7"/>
<path d="M58,30 L61,48" stroke="#6fa8d8" stroke-width="2.7"/>
<path d="M66,62 L70,74" stroke="#1560c0" stroke-width="2.9"/>
<path d="M72,50 L80,66" stroke="#4aa0c8" stroke-width="2.7"/>
<path d="M82,62 L92,52" stroke="#5ab040" stroke-width="2.9"/>
<path d="M84,40 L90,28" stroke="#a0d860" stroke-width="2.5"/>
<path d="M96,54 L94,64" stroke="#c04a20" stroke-width="2.9"/>
<path d="M100,70 L106,72" stroke="#b07840" stroke-width="2.5"/>
<path d="M108,52 L112,46" stroke="#e89030" stroke-width="2.7"/>
<path d="M116,74 L126,78" stroke="#1a9040" stroke-width="2.9"/>
<path d="M124,66 L130,64" stroke="#9ad8a8" stroke-width="2.5"/>
<path d="M24,52 L30,48" stroke="#8898c8" stroke-width="2.5"/>
<path d="M28,72 L33,68" stroke="#2a3a90" stroke-width="2.7"/>
<path d="M38,22 L46,20" stroke="#a8c0e0" stroke-width="2.5"/>
</g>
<path d="M977.3,893.5C977.3,892.9 971.5,891.9 977.3,889.8C983.1,887.7 1001.1,882.8 1012.2,881.1C1023.3,879.4 1036.4,878.7 1043.7,879.4C1051,880.1 1052.7,881.7 1055.9,885.5C1059.1,889.3 1061.3,895.6 1062.9,902.1C1064.5,908.6 1065.4,916.9 1065.5,924.8C1065.6,932.6 1065.3,941.9 1063.7,949.2C1062.1,956.5 1059.8,963.5 1055.9,968.4C1052,973.3 1047.5,976.6 1040.2,978.9C1032.9,981.2 1021.5,982.2 1012.2,982.4C1002.9,982.5 992.1,981.2 984.3,979.8C976.4,978.3 969.5,977.1 965.1,973.7C960.7,970.4 959.6,964.3 958.1,959.7C956.6,955.1 957.4,949.4 956.4,946C955.4,942.6 952.7,940.3 952,939.2" stroke="#8a2bb0" stroke-width="5" fill="none" stroke-linejoin="round"/>
<path d="M218,1144.5C218.8,1143.9 221,1142.5 222.5,1140.9C224.1,1139.2 225.6,1136.3 227.2,1134.6C228.7,1133 230.3,1130.9 231.7,1131C233.1,1131.1 234.2,1133.3 235.5,1135.2C236.8,1137.1 238.1,1140.4 239.4,1142.3C240.7,1144.2 241.9,1146.5 243.2,1146.5C244.5,1146.5 246,1144.2 247.4,1142.3C248.8,1140.4 250.3,1137.1 251.7,1135.2C253.1,1133.3 254.5,1131 255.9,1131C257.3,1131 258.5,1133.3 259.8,1135.2C261.2,1137.1 262.5,1140.4 263.9,1142.3C265.2,1144.2 266.5,1146.5 267.8,1146.5C269.1,1146.5 270.5,1144.2 271.8,1142.3C273.2,1140.4 274.6,1137.1 276,1135.2C277.3,1133.3 278.6,1131 280,1131C281.4,1131 282.8,1133.3 284.2,1135.2C285.6,1137.1 287.1,1140.4 288.5,1142.3C289.9,1144.2 291.3,1146.5 292.7,1146.5C294.1,1146.5 295.4,1144.2 296.7,1142.3C298.1,1140.4 299.5,1137.1 300.9,1135.2C302.2,1133.3 303.6,1131 304.9,1131C306.2,1131 307.5,1133.3 308.8,1135.2C310.2,1137.1 311.5,1140.4 312.9,1142.3C314.2,1144.2 315.4,1146.5 316.8,1146.5C318.2,1146.5 319.6,1144.2 321,1142.3C322.4,1140.4 323.9,1137.1 325.3,1135.2C326.7,1133.3 328.1,1131 329.5,1131C330.9,1131 332.3,1133.2 333.7,1135C335.1,1136.9 336.6,1140.1 338,1142C339.4,1143.8 341.5,1145.3 342.2,1146" stroke="#b77bd6" stroke-width="2.8" fill="none" stroke-linejoin="round"/>
<ellipse cx="193.7" cy="1143.9" rx="24" ry="25.9" fill="#ffff00" stroke="#6f9aaa" stroke-width="2"/>
<ellipse cx="193.7" cy="1141.4" rx="14.4" ry="14.4" fill="#3b536c" stroke="#2d5f86" stroke-width="1"/>
<g transform="translate(391.9,1114.1) scale(0.595,0.59)" fill="none" stroke-linecap="round">
<path d="M33,34 Q36,24 52,20" stroke="#b9cbe8" stroke-width="2.5"/>
<path d="M47,22 L58,18" stroke="#c5d3ea" stroke-width="2.5"/>
<path d="M22,58 Q20,66 24,70" stroke="#b9cbe8" stroke-width="2.5"/>
<path d="M27,60 L29,69" stroke="#aab7d8" stroke-width="2.5"/>
<path d="M34.5,39 L33,52 L31,66" stroke="#1a1a8c" stroke-width="4.6"/>
<path d="M20,57 L31,56" stroke="#5a5aa8" stroke-width="3.5"/>
<path d="M21.5,70 L28.5,76" stroke="#3a4fc0" stroke-width="4.2"/>
<path d="M21,68 L22,72" stroke="#1a2a70" stroke-width="3.4"/>
<path d="M27.5,88 L39.5,69 L56,47.5 L64.5,39 L70,25" stroke="#0b7a2c" stroke-width="4.2"/>
<path d="M17,89 L28,88" stroke="#0b7a2c" stroke-width="3.5"/>
<path d="M40.5,40.5 L43,62 L46.5,81" stroke="#21b045" stroke-width="4.2"/>
<path d="M38,45 L40,66 L36,74" stroke="#1c9a50" stroke-width="3.8"/>
<path d="M51,42 L49,60 L47.5,76" stroke="#21b045" stroke-width="4.2"/>
<path d="M59.5,48 L54,62 L50,76" stroke="#21b045" stroke-width="4.2"/>
<path d="M44,80 L52,66" stroke="#159a3a" stroke-width="3.8"/>
<path d="M38,27.5 L44,36" stroke="#2aa080" stroke-width="3.8"/>
<path d="M38,27 L43,27" stroke="#208868" stroke-width="3.4"/>
<path d="M44,36 L46,52" stroke="#46c7a0" stroke-width="3.4"/>
<path d="M50,41 L53,50" stroke="#30b090" stroke-width="3.8"/>
<path d="M63,20 A4.8,4.8 0 1 1 63.2,19.9" stroke="#3a9ad0" stroke-width="3"/>
<path d="M63,21 L64.3,39" stroke="#5a8fb8" stroke-width="3.5"/>
<path d="M69,40.5 L65,58 L62,73.5" stroke="#1d7fe0" stroke-width="5"/>
<path d="M63,55 L62,70" stroke="#2a4fd0" stroke-width="3.8"/>
<path d="M70,42 L74,58 L77.5,70" stroke="#2b8fd8" stroke-width="3.8"/>
<path d="M77.5,70 L83.5,71.5" stroke="#3a9ab0" stroke-width="3.8"/>
<path d="M66,44 L64,62" stroke="#5a98b0" stroke-width="3.4"/>
<path d="M66.5,24 L73.5,33 L73,39" stroke="#0b7a2c" stroke-width="4.2"/>
<path d="M93,14 L88,34 L82,48 L77.5,59.5" stroke="#8cc820" stroke-width="3.8"/>
<path d="M92,20 L95,15" stroke="#9ad040" stroke-width="2.9"/>
<path d="M78.5,57 L90.5,47.5" stroke="#42b030" stroke-width="4.2"/>
<path d="M80,50 L86,40" stroke="#6ab830" stroke-width="3.4"/>
<path d="M88,48 L88,74" stroke="#86d488" stroke-width="3.4"/>
<path d="M94,34 L102,38" stroke="#86d488" stroke-width="2.5"/>
<path d="M84,62 L84,72" stroke="#a8e0b0" stroke-width="2.5"/>
<path d="M80,37 L87,33.5" stroke="#8a4a20" stroke-width="4.2"/>
<path d="M74,47 L77,50" stroke="#7a5a30" stroke-width="3.4"/>
<path d="M93,57 L98,68 L102.5,78.5" stroke="#e03a12" stroke-width="5"/>
<path d="M114.3,50 L113.5,60 L110.7,69" stroke="#f07f12" stroke-width="5"/>
<path d="M101,45 L107,43" stroke="#e0a020" stroke-width="5"/>
<path d="M113,37 L113.2,37.2" stroke="#6a3010" stroke-width="5"/>
<path d="M112,33 L115,34" stroke="#c8a030" stroke-width="3.4"/>
<path d="M113,68 L122,68 L130,71.5" stroke="#128032" stroke-width="4.2"/>
<path d="M122.6,62 L120,74" stroke="#128032" stroke-width="4.2"/>
<path d="M128.6,82 L129,82.3" stroke="#20c040" stroke-width="5"/>
<path d="M132,70 L133,78" stroke="#7fd49a" stroke-width="3.4"/>
<path d="M120,58 L122,63" stroke="#7fd49a" stroke-width="2.9"/>
<path d="M22,31.5 L22.3,32" stroke="#b06050" stroke-width="4.6"/>
<path d="M10,46.4 L17.5,46.4" stroke="#e6a8a8" stroke-width="3.4"/>
<path d="M78,22 L84,22" stroke="#d8a8a8" stroke-width="3.4"/>
<path d="M84,24 L86,27" stroke="#b0b0c0" stroke-width="2.9"/>
<path d="M114.3,82 L120,87" stroke="#d07060" stroke-width="3"/>
<path d="M104.8,74 L110.7,78.6" stroke="#a07060" stroke-width="3.8"/>
<path d="M56.5,82.7 L56.6,82.7" stroke="#111111" stroke-width="5.5"/>
<path d="M92.3,82 L92.4,82" stroke="#111111" stroke-width="5.5"/>
<path d="M36,60 L46,44" stroke="#178a3c" stroke-width="2.9"/>
<path d="M42,84 L47,70" stroke="#178a3c" stroke-width="2.9"/>
<path d="M54,80 L60,64" stroke="#2ab860" stroke-width="2.7"/>
<path d="M47,38 L52,58" stroke="#3cb0a0" stroke-width="2.7"/>
<path d="M58,30 L61,48" stroke="#6fa8d8" stroke-width="2.7"/>
<path d="M66,62 L70,74" stroke="#1560c0" stroke-width="2.9"/>
<path d="M72,50 L80,66" stroke="#4aa0c8" stroke-width="2.7"/>
<path d="M82,62 L92,52" stroke="#5ab040" stroke-width="2.9"/>
<path d="M84,40 L90,28" stroke="#a0d860" stroke-width="2.5"/>
<path d="M96,54 L94,64" stroke="#c04a20" stroke-width="2.9"/>
<path d="M100,70 L106,72" stroke="#b07840" stroke-width="2.5"/>
<path d="M108,52 L112,46" stroke="#e89030" stroke-width="2.7"/>
<path d="M116,74 L126,78" stroke="#1a9040" stroke-width="2.9"/>
<path d="M124,66 L130,64" stroke="#9ad8a8" stroke-width="2.5"/>
<path d="M24,52 L30,48" stroke="#8898c8" stroke-width="2.5"/>
<path d="M28,72 L33,68" stroke="#2a3a90" stroke-width="2.7"/>
<path d="M38,22 L46,20" stroke="#a8c0e0" stroke-width="2.5"/>
</g>
<path d="M567,1146.5 H598" stroke="#9a46c2" stroke-width="3.2" fill="none"/>
<ellipse cx="543.7" cy="1144.9" rx="23.7" ry="26" fill="#ffff00" stroke="#6f9aaa" stroke-width="2"/>
<ellipse cx="543.7" cy="1143" rx="14.1" ry="14.1" fill="#3b536c" stroke="#2d5f86" stroke-width="1"/>
<g transform="translate(580.9,1113.1) scale(0.575,0.557)" fill="none" stroke-linecap="round">
<path d="M33,34 Q36,24 52,20" stroke="#b9cbe8" stroke-width="2.5"/>
<path d="M47,22 L58,18" stroke="#c5d3ea" stroke-width="2.5"/>
<path d="M22,58 Q20,66 24,70" stroke="#b9cbe8" stroke-width="2.5"/>
<path d="M27,60 L29,69" stroke="#aab7d8" stroke-width="2.5"/>
<path d="M34.5,39 L33,52 L31,66" stroke="#1a1a8c" stroke-width="4.6"/>
<path d="M20,57 L31,56" stroke="#5a5aa8" stroke-width="3.5"/>
<path d="M21.5,70 L28.5,76" stroke="#3a4fc0" stroke-width="4.2"/>
<path d="M21,68 L22,72" stroke="#1a2a70" stroke-width="3.4"/>
<path d="M27.5,88 L39.5,69 L56,47.5 L64.5,39 L70,25" stroke="#0b7a2c" stroke-width="4.2"/>
<path d="M17,89 L28,88" stroke="#0b7a2c" stroke-width="3.5"/>
<path d="M40.5,40.5 L43,62 L46.5,81" stroke="#21b045" stroke-width="4.2"/>
<path d="M38,45 L40,66 L36,74" stroke="#1c9a50" stroke-width="3.8"/>
<path d="M51,42 L49,60 L47.5,76" stroke="#21b045" stroke-width="4.2"/>
<path d="M59.5,48 L54,62 L50,76" stroke="#21b045" stroke-width="4.2"/>
<path d="M44,80 L52,66" stroke="#159a3a" stroke-width="3.8"/>
<path d="M38,27.5 L44,36" stroke="#2aa080" stroke-width="3.8"/>
<path d="M38,27 L43,27" stroke="#208868" stroke-width="3.4"/>
<path d="M44,36 L46,52" stroke="#46c7a0" stroke-width="3.4"/>
<path d="M50,41 L53,50" stroke="#30b090" stroke-width="3.8"/>
<path d="M63,20 A4.8,4.8 0 1 1 63.2,19.9" stroke="#3a9ad0" stroke-width="3"/>
<path d="M63,21 L64.3,39" stroke="#5a8fb8" stroke-width="3.5"/>
<path d="M69,40.5 L65,58 L62,73.5" stroke="#1d7fe0" stroke-width="5"/>
<path d="M63,55 L62,70" stroke="#2a4fd0" stroke-width="3.8"/>
<path d="M70,42 L74,58 L77.5,70" stroke="#2b8fd8" stroke-width="3.8"/>
<path d="M77.5,70 L83.5,71.5" stroke="#3a9ab0" stroke-width="3.8"/>
<path d="M66,44 L64,62" stroke="#5a98b0" stroke-width="3.4"/>
<path d="M66.5,24 L73.5,33 L73,39" stroke="#0b7a2c" stroke-width="4.2"/>
<path d="M93,14 L88,34 L82,48 L77.5,59.5" stroke="#8cc820" stroke-width="3.8"/>
<path d="M92,20 L95,15" stroke="#9ad040" stroke-width="2.9"/>
<path d="M78.5,57 L90.5,47.5" stroke="#42b030" stroke-width="4.2"/>
<path d="M80,50 L86,40" stroke="#6ab830" stroke-width="3.4"/>
<path d="M88,48 L88,74" stroke="#86d488" stroke-width="3.4"/>
<path d="M94,34 L102,38" stroke="#86d488" stroke-width="2.5"/>
<path d="M84,62 L84,72" stroke="#a8e0b0" stroke-width="2.5"/>
<path d="M80,37 L87,33.5" stroke="#8a4a20" stroke-width="4.2"/>
<path d="M74,47 L77,50" stroke="#7a5a30" stroke-width="3.4"/>
<path d="M93,57 L98,68 L102.5,78.5" stroke="#e03a12" stroke-width="5"/>
<path d="M114.3,50 L113.5,60 L110.7,69" stroke="#f07f12" stroke-width="5"/>
<path d="M101,45 L107,43" stroke="#e0a020" stroke-width="5"/>
<path d="M113,37 L113.2,37.2" stroke="#6a3010" stroke-width="5"/>
<path d="M112,33 L115,34" stroke="#c8a030" stroke-width="3.4"/>
<path d="M113,68 L122,68 L130,71.5" stroke="#128032" stroke-width="4.2"/>
<path d="M122.6,62 L120,74" stroke="#128032" stroke-width="4.2"/>
<path d="M128.6,82 L129,82.3" stroke="#20c040" stroke-width="5"/>
<path d="M132,70 L133,78" stroke="#7fd49a" stroke-width="3.4"/>
<path d="M120,58 L122,63" stroke="#7fd49a" stroke-width="2.9"/>
<path d="M22,31.5 L22.3,32" stroke="#b06050" stroke-width="4.6"/>
<path d="M10,46.4 L17.5,46.4" stroke="#e6a8a8" stroke-width="3.4"/>
<path d="M78,22 L84,22" stroke="#d8a8a8" stroke-width="3.4"/>
<path d="M84,24 L86,27" stroke="#b0b0c0" stroke-width="2.9"/>
<path d="M114.3,82 L120,87" stroke="#d07060" stroke-width="3"/>
<path d="M104.8,74 L110.7,78.6" stroke="#a07060" stroke-width="3.8"/>
<path d="M56.5,82.7 L56.6,82.7" stroke="#111111" stroke-width="5.5"/>
<path d="M92.3,82 L92.4,82" stroke="#111111" stroke-width="5.5"/>
<path d="M36,60 L46,44" stroke="#178a3c" stroke-width="2.9"/>
<path d="M42,84 L47,70" stroke="#178a3c" stroke-width="2.9"/>
<path d="M54,80 L60,64" stroke="#2ab860" stroke-width="2.7"/>
<path d="M47,38 L52,58" stroke="#3cb0a0" stroke-width="2.7"/>
<path d="M58,30 L61,48" stroke="#6fa8d8" stroke-width="2.7"/>
<path d="M66,62 L70,74" stroke="#1560c0" stroke-width="2.9"/>
<path d="M72,50 L80,66" stroke="#4aa0c8" stroke-width="2.7"/>
<path d="M82,62 L92,52" stroke="#5ab040" stroke-width="2.9"/>
<path d="M84,40 L90,28" stroke="#a0d860" stroke-width="2.5"/>
<path d="M96,54 L94,64" stroke="#c04a20" stroke-width="2.9"/>
<path d="M100,70 L106,72" stroke="#b07840" stroke-width="2.5"/>
<path d="M108,52 L112,46" stroke="#e89030" stroke-width="2.7"/>
<path d="M116,74 L126,78" stroke="#1a9040" stroke-width="2.9"/>
<path d="M124,66 L130,64" stroke="#9ad8a8" stroke-width="2.5"/>
<path d="M24,52 L30,48" stroke="#8898c8" stroke-width="2.5"/>
<path d="M28,72 L33,68" stroke="#2a3a90" stroke-width="2.7"/>
<path d="M38,22 L46,20" stroke="#a8c0e0" stroke-width="2.5"/>
</g>
<path d="M611.2,1118.7C615.5,1117.6 630.3,1112.5 636.8,1112C643.3,1111.5 647.1,1112.4 650.3,1116C653.5,1119.6 655.5,1127.1 656.2,1133.6C656.9,1140.1 656.7,1149.6 654.4,1155.2C652.1,1160.8 647.4,1164.8 642.2,1167.3C637,1169.8 629.4,1170.2 623.3,1170C617.2,1169.8 609.8,1168.2 605.8,1166C601.8,1163.8 600.6,1159.8 599,1156.5C597.4,1153.2 596.8,1148.2 596.3,1146.5" stroke="#8a2bb0" stroke-width="3" fill="none"/>
<path d="M716.7,1130.4 V1073.5 A23.2,23.2 0 0 1 739.6,1050.3 V1064 A9.4,9.4 0 0 0 730.2,1073.5 V1130.4 Z" fill="#e2000f"/>
<path d="M763.1,1130.4 V1073.5 A23.2,23.2 0 0 0 739.6,1050.3 V1064 A9.4,9.4 0 0 1 749,1073.5 V1130.4 Z" fill="#0c0c9c"/>
<path d="M678.9,1150.1 H805.1" stroke="#000" stroke-width="7.4" fill="none"/>
<path d="M787.8,1135.3 L807.1,1150.1 L787.8,1164.9" stroke="#000" stroke-width="7.4" fill="none" stroke-linejoin="miter" stroke-miterlimit="10" stroke-linecap="round"/>
<path d="M880,1141.5C880.8,1140.9 883.1,1139.7 884.7,1138.2C886.3,1136.7 887.9,1134 889.5,1132.5C891.1,1131 892.7,1129.1 894.2,1129.2C895.7,1129.3 897,1131.4 898.4,1133.1C899.8,1134.9 901.3,1138.1 902.7,1139.9C904.1,1141.6 905.5,1143.8 906.9,1143.8C908.3,1143.8 909.5,1141.6 910.9,1139.9C912.2,1138.1 913.7,1134.9 915,1133.1C916.4,1131.4 917.6,1129.2 919,1129.2C920.4,1129.2 921.8,1131.4 923.2,1133.1C924.6,1134.9 926,1138.1 927.4,1139.9C928.8,1141.6 930.2,1143.8 931.6,1143.8C933,1143.8 934.3,1141.6 935.6,1139.9C937,1138.1 938.4,1134.9 939.8,1133.1C941.1,1131.4 942.5,1129.2 943.8,1129.2C945.1,1129.2 946.5,1131.4 947.8,1133.1C949.2,1134.9 950.6,1138.1 952,1139.9C953.3,1141.6 954.7,1143.8 956,1143.8C957.3,1143.8 958.7,1141.6 960,1139.9C961.4,1138.1 962.8,1134.9 964.2,1133.1C965.5,1131.4 966.8,1129.2 968.2,1129.2C969.6,1129.2 970.9,1131.4 972.3,1133.1C973.7,1134.9 975.2,1138.1 976.6,1139.9C978,1141.6 979.3,1143.8 980.7,1143.8C982.1,1143.8 983.5,1141.6 984.9,1139.9C986.3,1138.1 987.7,1134.9 989.1,1133.1C990.5,1131.4 991.9,1129.2 993.3,1129.2C994.7,1129.2 996,1131.3 997.4,1133.1C998.8,1134.8 1000.3,1138 1001.7,1139.7C1003.1,1141.5 1005.1,1143 1005.8,1143.6" stroke="#b77bd6" stroke-width="2.6" fill="none" stroke-linejoin="round"/>
<ellipse cx="856.4" cy="1142.5" rx="24.2" ry="26" fill="#ffff00" stroke="#6f9aaa" stroke-width="2"/>
<ellipse cx="856.4" cy="1140.4" rx="14.3" ry="14.3" fill="#3b536c" stroke="#2d5f86" stroke-width="1"/>
<path d="M1107,1136.4 H1139" stroke="#9a46c2" stroke-width="3.4" fill="none"/>
<ellipse cx="1083.8" cy="1135.6" rx="24" ry="24.6" fill="#ffff00" stroke="#6f9aaa" stroke-width="2"/>
<ellipse cx="1083.8" cy="1133.7" rx="13.9" ry="13.9" fill="#3b536c" stroke="#2d5f86" stroke-width="1"/>
<g transform="translate(1121.7,1104.5) scale(0.583,0.54)" fill="none" stroke-linecap="round">
<path d="M33,34 Q36,24 52,20" stroke="#b9cbe8" stroke-width="2.5"/>
<path d="M47,22 L58,18" stroke="#c5d3ea" stroke-width="2.5"/>
<path d="M22,58 Q20,66 24,70" stroke="#b9cbe8" stroke-width="2.5"/>
<path d="M27,60 L29,69" stroke="#aab7d8" stroke-width="2.5"/>
<path d="M34.5,39 L33,52 L31,66" stroke="#1a1a8c" stroke-width="4.6"/>
<path d="M20,57 L31,56" stroke="#5a5aa8" stroke-width="3.5"/>
<path d="M21.5,70 L28.5,76" stroke="#3a4fc0" stroke-width="4.2"/>
<path d="M21,68 L22,72" stroke="#1a2a70" stroke-width="3.4"/>
<path d="M27.5,88 L39.5,69 L56,47.5 L64.5,39 L70,25" stroke="#0b7a2c" stroke-width="4.2"/>
<path d="M17,89 L28,88" stroke="#0b7a2c" stroke-width="3.5"/>
<path d="M40.5,40.5 L43,62 L46.5,81" stroke="#21b045" stroke-width="4.2"/>
<path d="M38,45 L40,66 L36,74" stroke="#1c9a50" stroke-width="3.8"/>
<path d="M51,42 L49,60 L47.5,76" stroke="#21b045" stroke-width="4.2"/>
<path d="M59.5,48 L54,62 L50,76" stroke="#21b045" stroke-width="4.2"/>
<path d="M44,80 L52,66" stroke="#159a3a" stroke-width="3.8"/>
<path d="M38,27.5 L44,36" stroke="#2aa080" stroke-width="3.8"/>
<path d="M38,27 L43,27" stroke="#208868" stroke-width="3.4"/>
<path d="M44,36 L46,52" stroke="#46c7a0" stroke-width="3.4"/>
<path d="M50,41 L53,50" stroke="#30b090" stroke-width="3.8"/>
<path d="M63,20 A4.8,4.8 0 1 1 63.2,19.9" stroke="#3a9ad0" stroke-width="3"/>
<path d="M63,21 L64.3,39" stroke="#5a8fb8" stroke-width="3.5"/>
<path d="M69,40.5 L65,58 L62,73.5" stroke="#1d7fe0" stroke-width="5"/>
<path d="M63,55 L62,70" stroke="#2a4fd0" stroke-width="3.8"/>
<path d="M70,42 L74,58 L77.5,70" stroke="#2b8fd8" stroke-width="3.8"/>
<path d="M77.5,70 L83.5,71.5" stroke="#3a9ab0" stroke-width="3.8"/>
<path d="M66,44 L64,62" stroke="#5a98b0" stroke-width="3.4"/>
<path d="M66.5,24 L73.5,33 L73,39" stroke="#0b7a2c" stroke-width="4.2"/>
<path d="M93,14 L88,34 L82,48 L77.5,59.5" stroke="#8cc820" stroke-width="3.8"/>
<path d="M92,20 L95,15" stroke="#9ad040" stroke-width="2.9"/>
<path d="M78.5,57 L90.5,47.5" stroke="#42b030" stroke-width="4.2"/>
<path d="M80,50 L86,40" stroke="#6ab830" stroke-width="3.4"/>
<path d="M88,48 L88,74" stroke="#86d488" stroke-width="3.4"/>
<path d="M94,34 L102,38" stroke="#86d488" stroke-width="2.5"/>
<path d="M84,62 L84,72" stroke="#a8e0b0" stroke-width="2.5"/>
<path d="M80,37 L87,33.5" stroke="#8a4a20" stroke-width="4.2"/>
<path d="M74,47 L77,50" stroke="#7a5a30" stroke-width="3.4"/>
<path d="M93,57 L98,68 L102.5,78.5" stroke="#e03a12" stroke-width="5"/>
<path d="M114.3,50 L113.5,60 L110.7,69" stroke="#f07f12" stroke-width="5"/>
<path d="M101,45 L107,43" stroke="#e0a020" stroke-width="5"/>
<path d="M113,37 L113.2,37.2" stroke="#6a3010" stroke-width="5"/>
<path d="M112,33 L115,34" stroke="#c8a030" stroke-width="3.4"/>
<path d="M113,68 L122,68 L130,71.5" stroke="#128032" stroke-width="4.2"/>
<path d="M122.6,62 L120,74" stroke="#128032" stroke-width="4.2"/>
<path d="M128.6,82 L129,82.3" stroke="#20c040" stroke-width="5"/>
<path d="M132,70 L133,78" stroke="#7fd49a" stroke-width="3.4"/>
<path d="M120,58 L122,63" stroke="#7fd49a" stroke-width="2.9"/>
<path d="M22,31.5 L22.3,32" stroke="#b06050" stroke-width="4.6"/>
<path d="M10,46.4 L17.5,46.4" stroke="#e6a8a8" stroke-width="3.4"/>
<path d="M78,22 L84,22" stroke="#d8a8a8" stroke-width="3.4"/>
<path d="M84,24 L86,27" stroke="#b0b0c0" stroke-width="2.9"/>
<path d="M114.3,82 L120,87" stroke="#d07060" stroke-width="3"/>
<path d="M104.8,74 L110.7,78.6" stroke="#a07060" stroke-width="3.8"/>
<path d="M56.5,82.7 L56.6,82.7" stroke="#111111" stroke-width="5.5"/>
<path d="M92.3,82 L92.4,82" stroke="#111111" stroke-width="5.5"/>
<path d="M36,60 L46,44" stroke="#178a3c" stroke-width="2.9"/>
<path d="M42,84 L47,70" stroke="#178a3c" stroke-width="2.9"/>
<path d="M54,80 L60,64" stroke="#2ab860" stroke-width="2.7"/>
<path d="M47,38 L52,58" stroke="#3cb0a0" stroke-width="2.7"/>
<path d="M58,30 L61,48" stroke="#6fa8d8" stroke-width="2.7"/>
<path d="M66,62 L70,74" stroke="#1560c0" stroke-width="2.9"/>
<path d="M72,50 L80,66" stroke="#4aa0c8" stroke-width="2.7"/>
<path d="M82,62 L92,52" stroke="#5ab040" stroke-width="2.9"/>
<path d="M84,40 L90,28" stroke="#a0d860" stroke-width="2.5"/>
<path d="M96,54 L94,64" stroke="#c04a20" stroke-width="2.9"/>
<path d="M100,70 L106,72" stroke="#b07840" stroke-width="2.5"/>
<path d="M108,52 L112,46" stroke="#e89030" stroke-width="2.7"/>
<path d="M116,74 L126,78" stroke="#1a9040" stroke-width="2.9"/>
<path d="M124,66 L130,64" stroke="#9ad8a8" stroke-width="2.5"/>
<path d="M24,52 L30,48" stroke="#8898c8" stroke-width="2.5"/>
<path d="M28,72 L33,68" stroke="#2a3a90" stroke-width="2.7"/>
<path d="M38,22 L46,20" stroke="#a8c0e0" stroke-width="2.5"/>
</g>
<path d="M1150.7,1109.9C1155.4,1108.8 1172,1103.7 1179,1103.2C1186,1102.8 1189.1,1104.1 1192.5,1107.2C1195.9,1110.3 1198.4,1116 1199.3,1122.1C1200.2,1128.2 1199.9,1138 1197.9,1143.6C1195.9,1149.2 1192.9,1153.3 1187.1,1155.8C1181.3,1158.3 1169.6,1158.7 1162.9,1158.5C1156.2,1158.3 1150.5,1156.7 1146.7,1154.4C1142.9,1152.2 1141.5,1148 1139.9,1145C1138.3,1142 1137.7,1137.8 1137.2,1136.4" stroke="#8a2bb0" stroke-width="3" fill="none"/>
</g>
<path d="M1022.9,415.4 V478.5 H1074" stroke="#000" stroke-width="2.6" fill="none" stroke-linejoin="miter" stroke-linecap="square"/>
<path d="M479.7,938.3 H508.1 M493.9,924.2 V952.4" stroke="#000" stroke-width="2" fill="none"/>
<path d="M361.5,1141.7 H389.9 M375.7,1127.6 V1155.8" stroke="#000" stroke-width="2" fill="none"/>
<path d="M480.3,1141.7 H509.1 M494.7,1127.6 V1155.8" stroke="#000" stroke-width="2" fill="none"/>
<path d="M1022,1141.3 H1050 M1036,1127.2 V1155.4" stroke="#000" stroke-width="2" fill="none"/>
<path d="M266.5,712.5 H295.1 M280.8,697.9 V727.1" stroke="#000" stroke-width="2" fill="none"/>
<g opacity="0.999">
<text transform="translate(60.99,40.67) scale(0.4336,0.4305)" font-size="100" fill="#000">(</text>
<text transform="translate(76.30,40.02) scale(0.5000,0.3792)" font-size="100" fill="#000">a</text>
<text transform="translate(99.62,40.67) scale(0.4302,0.4305)" font-size="100" fill="#000">)</text>
<text transform="translate(567.08,40.67) scale(0.4375,0.4305)" font-size="100" fill="#000">(</text>
<text transform="translate(586.20,40.02) scale(0.4048,0.3849)" font-size="100" fill="#000">b</text>
<text transform="translate(608.02,40.67) scale(0.4302,0.4305)" font-size="100" fill="#000">)</text>
<text transform="translate(61.01,646.85) scale(0.4297,0.4316)" font-size="100" fill="#000">(</text>
<text transform="translate(77.06,646.52) scale(0.4043,0.3797)" font-size="100" fill="#000">c</text>
<text transform="translate(96.74,646.85) scale(0.4264,0.4316)" font-size="100" fill="#000">)</text>
<text transform="translate(143.58,646.20) scale(0.4727,0.4036)" font-size="100" fill="#000">MNPs</text>
<text transform="translate(66.18,723.75) scale(0.4141,0.4316)" font-size="100" fill="#000">(</text>
<text transform="translate(82.07,723.10) scale(0.3771,0.3976)" font-size="100" fill="#000">i</text>
<text transform="translate(95.01,723.75) scale(0.4031,0.4316)" font-size="100" fill="#000">)</text>
<text transform="translate(300.88,723.48) scale(0.4369,0.4226)" font-size="100" fill="#000">HS</text>
<text transform="translate(426.42,665.87) scale(0.4802,0.4071)" font-size="100" fill="#000">Aptamer</text>
<text transform="translate(878.22,657.84) scale(0.4791,0.4037)" font-size="100" fill="#000">Apt</text>
<rect x="953" y="648.8" width="10.1" height="2.9" fill="#000"/>
<text transform="translate(965.59,658.79) scale(0.4695,0.4066)" font-size="100" fill="#000">MNPs</text>
<text transform="translate(919.62,727.48) scale(0.4509,0.4226)" font-size="100" fill="#000">S</text>
<text transform="translate(59.84,954.73) scale(0.4219,0.4327)" font-size="100" fill="#000">(</text>
<text transform="translate(76.11,953.90) scale(0.4027,0.3901)" font-size="100" fill="#000">ii</text>
<text transform="translate(100.87,954.73) scale(0.4147,0.4327)" font-size="100" fill="#000">)</text>
<text transform="translate(534.75,888.37) scale(0.4636,0.4256)" font-size="100" fill="#000">CEA</text>
<text transform="translate(769.34,858.97) scale(0.4677,0.4301)" font-size="100" fill="#000">CEA</text>
<rect x="865.8" y="849" width="10.2" height="2.9" fill="#000"/>
<text transform="translate(880.10,857.87) scale(0.4966,0.4025)" font-size="100" fill="#000">Apt</text>
<rect x="957" y="849" width="9.6" height="2.9" fill="#000"/>
<text transform="translate(969.23,858.99) scale(0.4523,0.4127)" font-size="100" fill="#000">MNPs</text>
<text transform="translate(53.06,1155.73) scale(0.4180,0.4327)" font-size="100" fill="#000">(</text>
<text transform="translate(70.06,1155.10) scale(0.4280,0.3931)" font-size="100" fill="#000">iii</text>
<text transform="translate(107.09,1155.73) scale(0.4109,0.4327)" font-size="100" fill="#000">)</text>
<text transform="translate(137.49,210.90) scale(0.4148,0.4242)" font-size="100" fill="#0db14b">A</text>
<text transform="translate(998.85,527.82) scale(0.4721,0.3806)" font-size="100" fill="#000">1 ms</text>
<text transform="translate(994.1,505.6) rotate(-90) scale(0.4673,0.4182) translate(-8.80,0)" font-size="100">1.5 nA</text>
</g>
</svg>
</body></html>
